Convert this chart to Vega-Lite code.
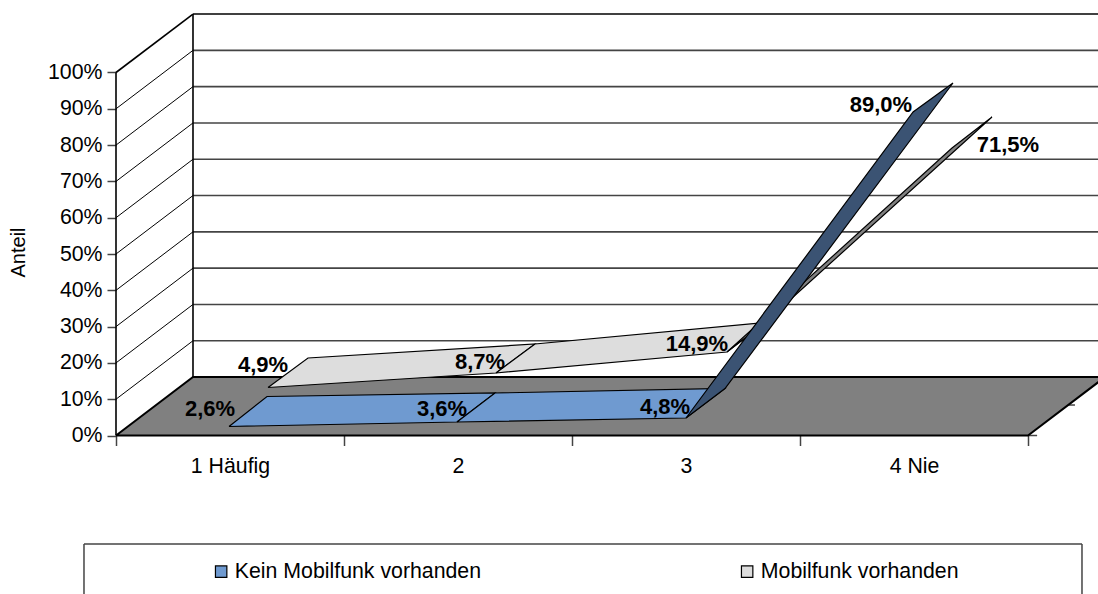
{"$schema":"https://vega.github.io/schema/vega-lite/v6.json","width":1098,"height":594,"autosize":"none","padding":0,"background":"white","config":{"view":{"stroke":null},"font":"Liberation Sans"},
"datasets":{
"backGrid":[{"x":0.3377,"y":26.1,"x2":4.31,"y2":26.1},{"x":0.3377,"y":36.1,"x2":4.31,"y2":36.1},{"x":0.3377,"y":46.1,"x2":4.31,"y2":46.1},{"x":0.3377,"y":56.1,"x2":4.31,"y2":56.1},{"x":0.3377,"y":66.1,"x2":4.31,"y2":66.1},{"x":0.3377,"y":76.1,"x2":4.31,"y2":76.1},{"x":0.3377,"y":86.1,"x2":4.31,"y2":86.1},{"x":0.3377,"y":96.1,"x2":4.31,"y2":96.1},{"x":0.3377,"y":106.1,"x2":4.31,"y2":106.1}],
"sideGrid":[{"x":0,"y":10,"x2":0.3377,"y2":26.1},{"x":0,"y":20,"x2":0.3377,"y2":36.1},{"x":0,"y":30,"x2":0.3377,"y2":46.1},{"x":0,"y":40,"x2":0.3377,"y2":56.1},{"x":0,"y":50,"x2":0.3377,"y2":66.1},{"x":0,"y":60,"x2":0.3377,"y2":76.1},{"x":0,"y":70,"x2":0.3377,"y2":86.1},{"x":0,"y":80,"x2":0.3377,"y2":96.1},{"x":0,"y":90,"x2":0.3377,"y2":106.1}],
"frame":[{"x":0,"y":0,"x2":0,"y2":100},{"x":0.3377,"y":16.1,"x2":0.3377,"y2":116.1},{"x":0.3377,"y":116.1,"x2":4.31,"y2":116.1},{"x":0,"y":100,"x2":0.3377,"y2":116.1}],
"floor":[{"x":0,"y":0,"n":1},{"x":0.3377,"y":16.1,"n":2},{"x":4.3377,"y":16.1,"n":3},{"x":4,"y":0,"n":4},{"x":0,"y":0,"n":5}],
"sideTicks":[{"x":4,"y":0,"x2":4.04,"y2":0},{"x":4.171,"y":8.4,"x2":4.206,"y2":8.4}],
"legendBox":[{"x":-0.1404,"y":-29.89,"x2":4.2368,"y2":-29.89},{"x":-0.1404,"y":-29.89,"x2":-0.1404,"y2":-43.66},{"x":4.2368,"y":-29.89,"x2":4.2368,"y2":-43.66}],
"ribbons":[
{"seg":"m1","surface":"Mobilfunk vorhanden","n":1,"x":0.6667,"y":13.22},{"seg":"m1","surface":"Mobilfunk vorhanden","n":2,"x":0.8421,"y":21.35},{"seg":"m1","surface":"Mobilfunk vorhanden","n":3,"x":1.8377,"y":25.21},{"seg":"m1","surface":"Mobilfunk vorhanden","n":4,"x":1.6667,"y":17.22},{"seg":"m1","surface":"Mobilfunk vorhanden","n":5,"x":0.6667,"y":13.22},
{"seg":"m2","surface":"Mobilfunk vorhanden","n":1,"x":1.6667,"y":17.22},{"seg":"m2","surface":"Mobilfunk vorhanden","n":2,"x":1.8377,"y":25.21},{"seg":"m2","surface":"Mobilfunk vorhanden","n":3,"x":2.8465,"y":31.13},{"seg":"m2","surface":"Mobilfunk vorhanden","n":4,"x":2.6798,"y":23.0},{"seg":"m2","surface":"Mobilfunk vorhanden","n":5,"x":1.6667,"y":17.22},
{"seg":"m3","surface":"Mobilfunk Flanke","n":1,"x":2.6798,"y":23.0},{"seg":"m3","surface":"Mobilfunk Flanke","n":2,"x":2.8465,"y":31.13},{"seg":"m3","surface":"Mobilfunk Flanke","n":3,"x":3.8421,"y":87.74},{"seg":"m3","surface":"Mobilfunk Flanke","n":4,"x":3.6667,"y":79.2},{"seg":"m3","surface":"Mobilfunk Flanke","n":5,"x":2.6798,"y":23.0},
{"seg":"k1","surface":"Kein Mobilfunk vorhanden","n":1,"x":0.4956,"y":2.48},{"seg":"k1","surface":"Kein Mobilfunk vorhanden","n":2,"x":0.6623,"y":10.74},{"seg":"k1","surface":"Kein Mobilfunk vorhanden","n":3,"x":1.6623,"y":11.71},{"seg":"k1","surface":"Kein Mobilfunk vorhanden","n":4,"x":1.4956,"y":3.72},{"seg":"k1","surface":"Kein Mobilfunk vorhanden","n":5,"x":0.4956,"y":2.48},
{"seg":"k2","surface":"Kein Mobilfunk vorhanden","n":1,"x":1.4956,"y":3.72},{"seg":"k2","surface":"Kein Mobilfunk vorhanden","n":2,"x":1.6623,"y":11.71},{"seg":"k2","surface":"Kein Mobilfunk vorhanden","n":3,"x":2.671,"y":12.95},{"seg":"k2","surface":"Kein Mobilfunk vorhanden","n":4,"x":2.5,"y":4.82},{"seg":"k2","surface":"Kein Mobilfunk vorhanden","n":5,"x":1.4956,"y":3.72},
{"seg":"k3","surface":"Kein Mobilfunk Flanke","n":1,"x":2.5,"y":4.82},{"seg":"k3","surface":"Kein Mobilfunk Flanke","n":2,"x":2.671,"y":12.95},{"seg":"k3","surface":"Kein Mobilfunk Flanke","n":3,"x":3.671,"y":97.11},{"seg":"k3","surface":"Kein Mobilfunk Flanke","n":4,"x":3.496,"y":89.12},{"seg":"k3","surface":"Kein Mobilfunk Flanke","n":5,"x":2.5,"y":4.82}],
"labels":[{"x":0.6447,"y":19.42,"label":"4,9%"},{"x":0.4123,"y":7.3,"label":"2,6%"},{"x":1.5965,"y":20.25,"label":"8,7%"},{"x":1.4298,"y":7.3,"label":"3,6%"},{"x":2.548,"y":25.2,"label":"14,9%"},{"x":2.408,"y":7.85,"label":"4,8%"},{"x":3.355,"y":91.05,"label":"89,0%"},{"x":3.912,"y":80.03,"label":"71,5%"}]
},
"encoding":{
"x":{"field":"x","type":"quantitative","scale":{"domain":[-0.50877,4.30702],"nice":false,"zero":false},"axis":{"title":null,"orient":"bottom","offset":-158.5,"domain":false,"grid":false,"values":[0,0.5,1,1.5,2,2.5,3,3.5,4],"tickSize":10,"tickColor":"#444444","tickWidth":1.5,"tickOpacity":{"condition":{"test":"datum.value % 1 == 0","value":1},"value":0},"labelExpr":"datum.value==0.5?'1 Häufig':datum.value==1.5?'2':datum.value==2.5?'3':datum.value==3.5?'4 Nie':''","labelFontSize":21.3,"labelPadding":10,"labelColor":"#000000","labelFont":"Liberation Sans","labelOverlap":false,"labelBound":false,"labelFlush":false}},
"y":{"field":"y","type":"quantitative","scale":{"domain":[-43.66,119.97],"nice":false,"zero":false},"axis":{"title":"Anteil","titleFontSize":20,"titleFont":"Liberation Sans","titleFontWeight":"normal","titleColor":"#000000","titleX":-88,"titleY":252,"titleAngle":-90,"orient":"left","offset":-116,"domain":false,"grid":false,"values":[0,10,20,30,40,50,60,70,80,90,100],"tickSize":9,"tickColor":"#444444","tickWidth":1.5,"labelExpr":"datum.value+'%'","labelFontSize":21.3,"labelPadding":5,"labelColor":"#000000","labelFont":"Liberation Sans","labelOverlap":false,"labelBound":false,"labelFlush":false}}
},
"layer":[
{"data":{"name":"backGrid"},"mark":{"type":"rule","stroke":"#444444","strokeWidth":1.6},"encoding":{"x2":{"field":"x2"},"y2":{"field":"y2"}}},
{"data":{"name":"sideGrid"},"mark":{"type":"rule","stroke":"#000000","strokeWidth":1},"encoding":{"x2":{"field":"x2"},"y2":{"field":"y2"}}},
{"data":{"name":"frame"},"mark":{"type":"rule","stroke":"#000000","strokeWidth":1.6},"encoding":{"x2":{"field":"x2"},"y2":{"field":"y2"}}},
{"data":{"name":"sideTicks"},"mark":{"type":"rule","stroke":"#444444","strokeWidth":1.5},"encoding":{"x2":{"field":"x2"},"y2":{"field":"y2"}}},
{"data":{"name":"floor"},"mark":{"type":"line","clip":true,"fill":"#808080","stroke":"#000000","strokeWidth":2},"encoding":{"order":{"field":"n"}}},
{"data":{"name":"legendBox"},"mark":{"type":"rule","stroke":"#444444","strokeWidth":1.5},"encoding":{"x2":{"field":"x2"},"y2":{"field":"y2"}}},
{"data":{"name":"ribbons"},"mark":{"type":"line","stroke":"#000000","strokeWidth":1.2},"encoding":{"order":{"field":"n"},"detail":{"field":"seg"},"fill":{"field":"surface","type":"nominal","scale":{"domain":["Kein Mobilfunk vorhanden","Mobilfunk vorhanden","Kein Mobilfunk Flanke","Mobilfunk Flanke"],"range":["#6F9AD0","#DDDDDD","#3B5373","#808080"]},"legend":{"orient":"none","legendX":210.5,"legendY":561,"direction":"horizontal","columns":2,"columnPadding":255,"title":null,"values":["Kein Mobilfunk vorhanden","Mobilfunk vorhanden"],"symbolType":"square","symbolSize":130,"symbolStrokeColor":"#000000","symbolStrokeWidth":1.2,"labelFontSize":21.3,"labelFont":"Liberation Sans","labelColor":"#000000","labelOffset":3,"padding":0,"labelLimit":400}}}},
{"data":{"name":"labels"},"mark":{"type":"text","font":"Liberation Sans","fontWeight":"bold","fontSize":22,"color":"#000000","align":"center","baseline":"middle"},"encoding":{"text":{"field":"label"}}}
]}
